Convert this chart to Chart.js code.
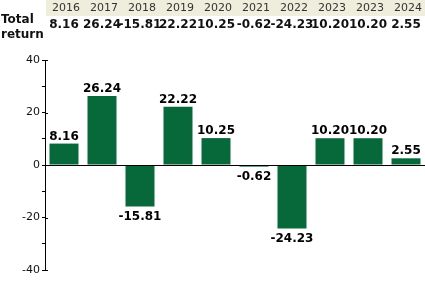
<!DOCTYPE html>
<html>
<head>
<meta charset="utf-8">
<title>Total return</title>
<script src="https://cdn.jsdelivr.net/npm/chart.js@4.4.1/dist/chart.umd.min.js"></script>
<style>
    html, body { margin: 0; padding: 0; background: #fff; }
    #wrap { width: 425px; height: 288px; position: relative; }
</style>
</head>
<body>
<div id="wrap"><canvas id="returnChart" width="425" height="288"></canvas></div>
<script>
// chart data
const years = ["2016", "2017", "2018", "2019", "2020", "2021", "2022", "2023", "2023", "2024"];
const totalReturn = [8.16, 26.24, -15.81, 22.22, 10.25, -0.62, -24.23, 10.20, 10.20, 2.55];
const rowTitle = ["Total", "return"];
const yMin = -40;
const yMax = 40;
const yStep = 10;

const FONT = "'DejaVu Sans', Verdana, sans-serif";
const GREEN = "#07693a";

// table above the plot, columns follow the category scale
const tablePlugin = {
    id: "returnTable",
    beforeDraw(chart) {
        const ctx = chart.ctx;
        const xs = chart.scales.x;
        ctx.save();
        ctx.fillStyle = "#efeedc";
        ctx.fillRect(xs.left + 1, 0, chart.width - xs.left - 1, 16);

        ctx.textAlign = "center";
        ctx.textBaseline = "middle";
        ctx.fillStyle = "#333";
        ctx.font = "11px " + FONT;
        years.forEach((yr, i) => {
            ctx.fillText(yr, xs.getPixelForValue(i) + 2, 8);
        });

        ctx.fillStyle = "#111";
        ctx.font = "bold 12px " + FONT;
        totalReturn.forEach((v, i) => {
            ctx.fillText(v.toFixed(2), xs.getPixelForValue(i), 25);
        });

        ctx.textAlign = "left";
        ctx.textBaseline = "alphabetic";
        ctx.font = "bold 12px " + FONT;
        ctx.fillText(rowTitle[0], 1, 23);
        ctx.fillText(rowTitle[1], 1, 38);
        ctx.restore();
    },
    afterDraw(chart) {
        const ctx = chart.ctx;
        const ys = chart.scales.y;
        const area = chart.chartArea;
        ctx.save();

        // zero line
        const y0 = Math.round(ys.getPixelForValue(0)) + 0.5;
        ctx.strokeStyle = "#000";
        ctx.lineWidth = 1;
        ctx.beginPath();
        ctx.moveTo(area.left, y0);
        ctx.lineTo(area.right, y0);
        ctx.stroke();

        // major ticks poke out to the right of the axis too
        ctx.beginPath();
        for (let v = yMin; v <= yMax; v += 20) {
            const py = Math.round(ys.getPixelForValue(v)) + 0.5;
            ctx.moveTo(area.left, py);
            ctx.lineTo(area.left + 3, py);
        }
        ctx.stroke();

        // value labels on the bars
        const meta = chart.getDatasetMeta(0);
        ctx.fillStyle = "#000";
        ctx.font = "bold 12px " + FONT;
        ctx.textAlign = "center";
        meta.data.forEach((bar, i) => {
            const v = totalReturn[i];
            if (v >= 0) {
                ctx.textBaseline = "alphabetic";
                ctx.fillText(v.toFixed(2), bar.x, bar.y - 4);
            } else {
                ctx.textBaseline = "top";
                ctx.fillText(v.toFixed(2), bar.x, bar.y + 4);
            }
        });
        ctx.restore();
    }
};

const ctx = document.getElementById("returnChart").getContext("2d");
new Chart(ctx, {
    type: "bar",
    data: {
        labels: years,
        datasets: [{
            data: totalReturn,
            backgroundColor: GREEN,
            borderWidth: 0,
            barPercentage: 0.763,
            categoryPercentage: 1
        }]
    },
    options: {
        responsive: false,
        animation: false,
        devicePixelRatio: 1,
        layout: { padding: { top: 60, bottom: 18, left: 0, right: 0 } },
        plugins: {
            legend: { display: false },
            tooltip: { enabled: false }
        },
        scales: {
            x: { display: false },
            y: {
                min: yMin,
                max: yMax,
                afterFit(scale) { scale.width = 45; },
                border: { display: true, color: "#000", width: 1 },
                grid: { drawOnChartArea: false, drawTicks: true, tickLength: 3, color: "#000" },
                ticks: {
                    stepSize: yStep,
                    padding: 2,
                    color: "#111",
                    font: { family: FONT, size: 11 },
                    callback: v => (v % 20 === 0 ? v : "")
                }
            }
        }
    },
    plugins: [tablePlugin]
});
</script>
</body>
</html>
